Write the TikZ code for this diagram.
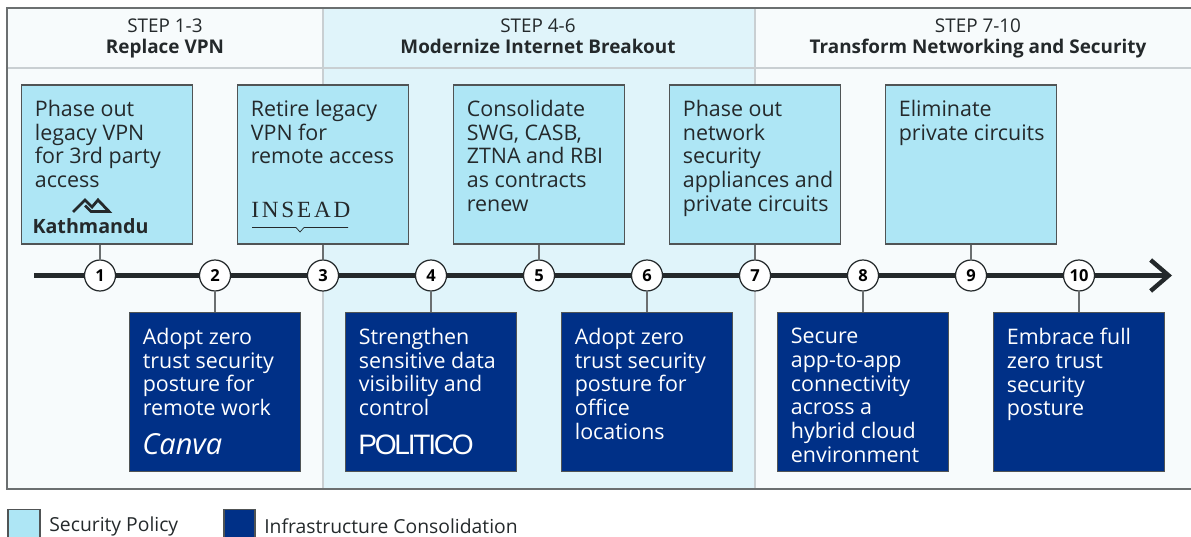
\documentclass[tikz,border=0pt]{standalone}
\usepackage{fontspec}
\setmainfont{Open Sans}
\newfontfamily\logoserif[LetterSpace=12]{Liberation Serif}
\newfontfamily\logosans[LetterSpace=-8]{Liberation Sans}
\usetikzlibrary{arrows.meta}
\definecolor{framegray}{HTML}{6B6F70}
\definecolor{splitgray}{HTML}{C9CFD2}
\definecolor{inkdark}{HTML}{24292B}
\definecolor{policyblue}{HTML}{AEE6F5}
\definecolor{infrablue}{HTML}{003087}
\definecolor{paleband}{HTML}{F7FBFC}
\definecolor{midband}{HTML}{E0F4FA}
\tikzset{
  policybox/.style = {draw = inkdark!80, line width = 0.9pt, fill = policyblue,
                      minimum width = 3.42cm, minimum height = 3.18cm, inner sep = 0pt},
  infrabox/.style = {policybox, fill = infrablue},
  boxtext/.style = {anchor = north west, inner sep = 0pt, align = left, text = inkdark,
                    font = \fontsize{12.2}{13.45}\selectfont},
  infratext/.style = {boxtext, text = white},
  stepdot/.style = {shape = circle, draw = inkdark, line width = 0.7pt, fill = white,
                    minimum size = 0.62cm, inner sep = 0pt, text = black,
                    font = \fontsize{9.4}{11}\selectfont\bfseries},
  headtext/.style = {align = center, inner sep = 0pt, text = inkdark,
                     font = \fontsize{10.75}{12.2}\selectfont},
  legendtext/.style = {anchor = west, inner sep = 0pt, text = inkdark,
                       font = \fontsize{11}{13}\selectfont},
  stem/.style = {draw = framegray, line width = 0.8pt}
}
\begin{document}
\begin{tikzpicture}[x = 0.02cm, y = -0.02cm]
      \useasboundingbox (0, 0) rectangle (1191, 537);

      \fill [paleband] (7, 8) rectangle (323, 489);
      \fill [midband] (323, 8) rectangle (755, 489);
      \fill [paleband] (755, 8) rectangle (1191, 489);
      \draw [splitgray, line width = 0.9pt] (323, 8) -- (323, 489)
            (755, 8) -- (755, 489)
            (7, 68) -- (1191, 68);
      \draw [framegray, line width = 0.9pt] (1191, 8) -- (7, 8) -- (7, 489) -- (1191, 489);

      \node [headtext] (h1) at (165, 39.5) {STEP 1-3\\\textbf{Replace VPN}\strut};
      \node [headtext] (h2) at (538, 39.5) {STEP 4-6\\\textbf{Modernize Internet Breakout}\strut};
      \node [headtext] (h3) at (978, 39.5) {STEP 7-10\\\textbf{Transform Networking and Security}\strut};

      \coordinate (axisstart) at (34, 275.5);
      \coordinate (axisend) at (1172, 275.5);
      \draw [inkdark, line width = 2.5pt, -{Straight Barb[length = 0.36cm, width = 0.62cm, line width = 2.5pt]}]
            (axisstart) -- (axisend);

      \node [policybox] (b1) at (107, 164.5) {};
      \node [policybox] (b3) at (323, 164.5) {};
      \node [policybox] (b5) at (539, 164.5) {};
      \node [policybox] (b7) at (755, 164.5) {};
      \node [policybox] (b9) at (971, 164.5) {};
      \node [infrabox] (b2) at (215, 392) {};
      \node [infrabox] (b4) at (431, 392) {};
      \node [infrabox] (b6) at (647, 392) {};
      \node [infrabox] (b8) at (863, 392) {};
      \node [infrabox] (b10) at (1079, 392) {};

      \node [stepdot] (n1) at (100, 275.5) {1};
      \node [stepdot] (n2) at (215, 275.5) {2};
      \node [stepdot] (n3) at (323, 275.5) {3};
      \node [stepdot] (n4) at (431, 275.5) {4};
      \node [stepdot] (n5) at (539, 275.5) {5};
      \node [stepdot] (n6) at (647, 275.5) {6};
      \node [stepdot] (n7) at (755, 275.5) {7};
      \node [stepdot] (n8) at (863, 275.5) {8};
      \node [stepdot] (n9) at (971, 275.5) {9};
      \node [stepdot] (n10) at (1079, 275.5) {10};

      \draw [stem] (n1) -- (n1 |- b1.south)
            (n2) -- (b2)
            (n3) -- (b3)
            (n4) -- (b4)
            (n5) -- (b5)
            (n6) -- (b6)
            (n7) -- (b7)
            (n8) -- (b8)
            (n9) -- (b9)
            (n10) -- (b10);

      \node [boxtext] (t1) at (34.5, 100) {Phase out\\legacy VPN\\for 3rd party\\access};
      \node [boxtext] (t3) at (250.5, 100) {Retire legacy\\VPN for\\remote access};
      \node [boxtext] (t5) at (466.5, 100) {Consolidate\\SWG, CASB,\\ZTNA and RBI\\as contracts\\renew};
      \node [boxtext] (t7) at (682.5, 100) {Phase out\\network\\security\\appliances and\\private circuits};
      \node [boxtext] (t9) at (898.5, 100) {Eliminate\\private circuits};
      \node [infratext] (t2) at (142.5, 328) {Adopt zero\\trust security\\posture for\\remote work};
      \node [infratext] (t4) at (358.5, 328) {Strengthen\\sensitive data\\visibility and\\control};
      \node [infratext] (t6) at (574.5, 328) {Adopt zero\\trust security\\posture for\\office\\locations};
      \node [infratext] (t8) at (790.5, 328) {Secure\\app-to-app\\connectivity\\across a\\hybrid cloud\\environment};
      \node [infratext] (t10) at (1006.5, 328) {Embrace full\\zero trust\\security\\posture};

      \draw [inkdark, line width = 1.6pt] (73, 212) -- (85, 200) -- (92, 207) -- (98, 200) -- (109, 211.5) -- (91, 211.5) -- (85, 205.5);
      \node [inner sep = 0pt, text = inkdark, font = \fontsize{11.2}{12}\selectfont\bfseries] (kathmandu) at (90.5, 226) {Kathmandu};
      \node [anchor = west, inner sep = 0pt, text = inkdark, font = \fontsize{13.2}{16}\logoserif] (insead) at (251, 210) {INSEAD};
      \draw [inkdark, line width = 0.4pt] (252, 227.5) -- (296, 227.5) -- (300, 232) -- (304, 227.5) -- (348, 227.5);
      \node [anchor = west, inner sep = 0pt, text = white, font = \fontsize{16.5}{18}\rmfamily\itshape] (canva) at (142, 444) {Canva};
      \node [anchor = west, inner sep = 0pt, text = white, font = \fontsize{16}{18}\logosans] (politico) at (358, 445) {POLITICO};

      \node [policybox, minimum width = 0.64cm, minimum height = 0.64cm, anchor = north west] (l1) at (7, 508.5) {};
      \node [legendtext] (lt1) at (49, 526) {Security Policy};
      \node [infrabox, minimum width = 0.62cm, minimum height = 0.64cm, anchor = north west] (l2) at (223, 508.5) {};
      \node [legendtext] (lt2) at (264, 526) {Infrastructure Consolidation};
    \end{tikzpicture}
\end{document}
